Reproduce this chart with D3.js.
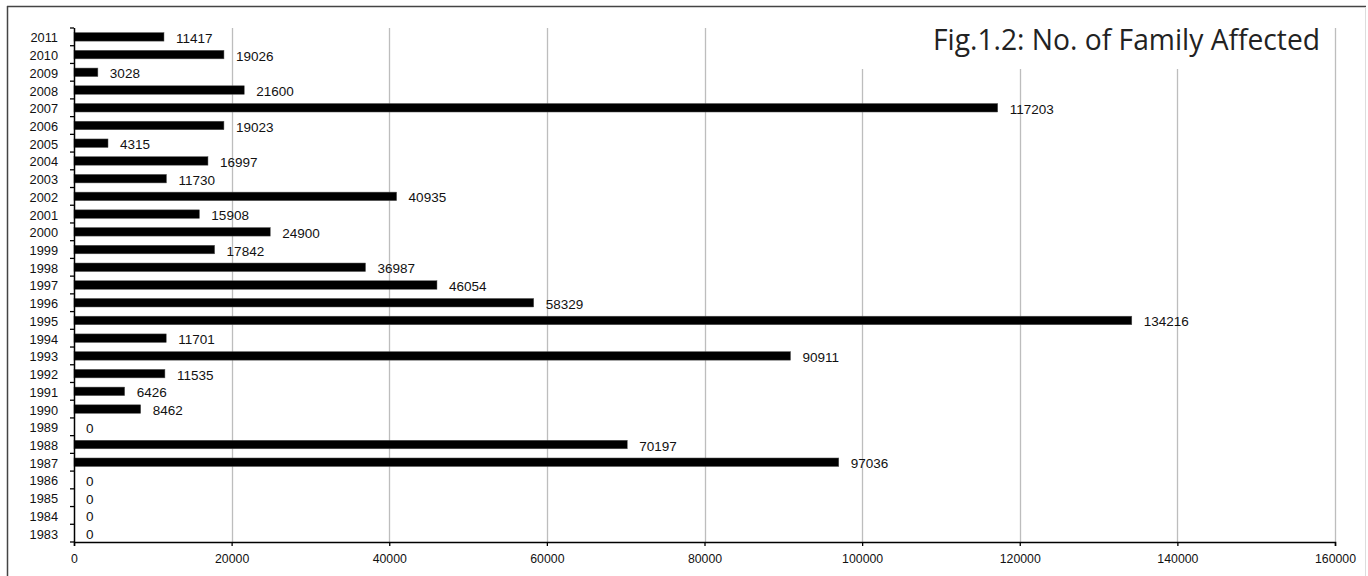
<!DOCTYPE html>
<html><head><meta charset="utf-8">
<script src="https://cdn.jsdelivr.net/npm/d3@7"></script>
<style>body{margin:0;background:#fff}svg{display:block}</style>
</head><body>
<svg id="c" width="1368" height="576"></svg>
<script>
const years = [1983,1984,1985,1986,1987,1988,1989,1990,1991,1992,1993,1994,1995,1996,1997,1998,1999,2000,2001,2002,2003,2004,2005,2006,2007,2008,2009,2010,2011];
const families = [0,0,0,0,97036,70197,0,8462,6426,11535,90911,11701,134216,58329,46054,36987,17842,24900,15908,40935,11730,16997,4315,19023,117203,21600,3028,19026,11417];
const xTicks = [0,20000,40000,60000,80000,100000,120000,140000,160000];
const title = "Fig.1.2: No. of Family Affected";

const svg = d3.select("#c");
const m = {left:74, right:33, top:28, bottom:34};
const W = 1368, H = 576;

// outer frame
svg.append("line").attr("x1",7).attr("y1",6.5).attr("x2",1366).attr("y2",6.5).attr("stroke","#444").attr("stroke-width",1.5);
svg.append("line").attr("x1",7.5).attr("y1",6).attr("x2",7.5).attr("y2",H).attr("stroke","#444").attr("stroke-width",1.5);
svg.append("line").attr("x1",1365.5).attr("y1",7).attr("x2",1365.5).attr("y2",H).attr("stroke","#ddd").attr("stroke-width",1);

const x = d3.scaleLinear().domain([0,160000]).range([m.left, 1335]);
const y = d3.scaleBand().domain(years.map(String).reverse()).range([m.top, 542]).paddingInner(0.52).paddingOuter(0.26);

// gridlines
svg.append("g").selectAll("line").data(xTicks.slice(1)).join("line")
  .attr("x1",d=>Math.round(x(d))+0.5).attr("x2",d=>Math.round(x(d))+0.5)
  .attr("y1",m.top).attr("y2",542).attr("stroke","#bdbdbd").attr("stroke-width",1.3);

// title background + title
svg.append("rect").attr("x",850).attr("y",m.top).attr("width",470).attr("height",41).attr("fill","#fff");
svg.append("text").attr("x",1320).attr("y",50).attr("text-anchor","end")
  .attr("font-family","'Open Sans', sans-serif").attr("font-size",30).attr("fill","#222")
  .attr("textLength",387).attr("lengthAdjust","spacingAndGlyphs").text(title);

// bars
const data = years.map((yr,i)=>({yr:String(yr), v:families[i]}));
svg.append("g").selectAll("rect").data(data).join("rect")
  .attr("x",x(0)).attr("y",d=>y(d.yr)).attr("width",d=>x(d.v)-x(0)).attr("height",y.bandwidth())
  .attr("fill","#000").attr("stroke","#555").attr("stroke-width",0.5);

// value labels
svg.append("g").selectAll("text").data(data).join("text")
  .attr("x",d=>x(d.v)+12).attr("y",d=>y(d.yr)+y.bandwidth()/2+1.3).attr("dy","0.35em")
  .attr("font-family","'Liberation Sans', Arial, sans-serif").attr("font-size",13.5).attr("fill","#111")
  .text(d=>d.v);

// y axis with ticks at band boundaries
const yAxisG = svg.append("g");
yAxisG.append("line").attr("x1",m.left+0.5).attr("x2",m.left+0.5).attr("y1",m.top).attr("y2",542).attr("stroke","#000").attr("stroke-width",1.5);
const bounds = d3.range(years.length+1).map(i=>m.top + i*y.step());
yAxisG.selectAll("line.t").data(bounds).join("line").attr("class","t")
  .attr("x1",m.left-4).attr("x2",m.left).attr("y1",d=>d).attr("y2",d=>d).attr("stroke","#000").attr("stroke-width",1.3);
yAxisG.selectAll("text").data(data).join("text")
  .attr("x",58).attr("y",d=>y(d.yr)+y.bandwidth()/2+1).attr("dy","0.35em").attr("text-anchor","end")
  .attr("font-family","'Liberation Sans', Arial, sans-serif").attr("font-size",12.8).attr("fill","#111")
  .text(d=>d.yr);

// x axis
const xAxis = d3.axisBottom(x).tickValues(xTicks).tickSize(4).tickPadding(8).tickFormat(d3.format("d"));
const gx = svg.append("g").attr("transform","translate(0,542)").call(xAxis);
gx.select(".domain").attr("stroke","#000").attr("stroke-width",1.5);
gx.selectAll(".tick line").attr("stroke","#000").attr("stroke-width",1.3);
gx.selectAll("text").attr("font-family","'Liberation Sans', Arial, sans-serif").attr("font-size",12.3).attr("fill","#111");
</script>
</body></html>
